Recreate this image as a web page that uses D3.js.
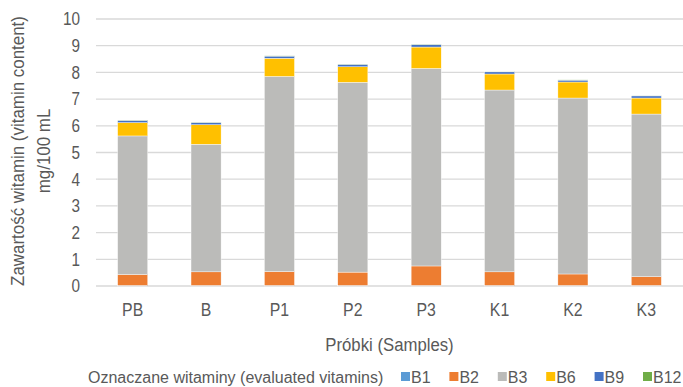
<!DOCTYPE html>
<html>
<head>
<meta charset="utf-8">
<script src="https://cdn.jsdelivr.net/npm/d3@7"></script>
<style>
  body { margin: 0; background: #fff; }
  text { font-family: "Liberation Sans", Arial, sans-serif; fill: #595959; font-size: 18px; }
</style>
</head>
<body>
<script>
// samples and vitamin contents (mg/100 mL)
var samples = ["PB", "B", "P1", "P2", "P3", "K1", "K2", "K3"];
var vitamins = ["B1", "B2", "B3", "B6", "B9", "B12"];
var B1  = [0.02, 0.02, 0.02, 0.02, 0.02, 0.02, 0.02, 0.02];
var B2  = [0.41, 0.51, 0.52, 0.50, 0.73, 0.51, 0.43, 0.33];
var B3  = [5.19, 4.78, 7.31, 7.11, 7.40, 6.81, 6.59, 6.09];
var B6  = [0.50, 0.73, 0.68, 0.58, 0.80, 0.60, 0.60, 0.60];
var B9  = [0.08, 0.08, 0.08, 0.09, 0.09, 0.08, 0.07, 0.08];
var B12 = [0.01, 0.01, 0.01, 0.01, 0.01, 0.01, 0.01, 0.01];
var yTicks = [0, 1, 2, 3, 4, 5, 6, 7, 8, 9, 10];

var colors = ["#5b9bd5", "#ed7d31", "#bbbbb9", "#ffc000", "#4472c4", "#70ad47"];

var width = 683, height = 387,
    margin = {top: 19, right: 0, bottom: 101, left: 96};

// squeeze text a bit, the original uses a narrow font
function narrow(sel, k) {
    sel.each(function() {
        var w = this.getComputedTextLength();
        d3.select(this).attr("textLength", w * k).attr("lengthAdjust", "spacingAndGlyphs");
    });
}

var series = [B1, B2, B3, B6, B9, B12];
var data = samples.map(function(s, i) {
    var row = {sample: s};
    vitamins.forEach(function(v, j) { row[v] = series[j][i]; });
    return row;
});

var svg = d3.select("body").append("svg")
    .attr("width", width)
    .attr("height", height);

var x = d3.scaleBand().domain(samples)
    .range([margin.left, width - margin.right])
    .paddingInner(0.59).paddingOuter(0.295);
var y = d3.scaleLinear().domain([0, 10]).range([height - margin.bottom, margin.top]);

// gridlines
svg.append("g")
    .selectAll("line")
    .data(yTicks)
    .join("line")
    .attr("x1", margin.left)
    .attr("x2", width - margin.right)
    .attr("y1", function(d) { return y(d); })
    .attr("y2", function(d) { return y(d); })
    .style("stroke", "#d9d9d9")
    .style("stroke-width", "1.3px");

// y tick labels
svg.append("g")
    .selectAll("text")
    .data(yTicks)
    .join("text")
    .attr("x", 80)
    .attr("y", function(d) { return y(d); })
    .attr("dy", "0.35em")
    .style("text-anchor", "end")
    .text(function(d) { return d; })
    .call(narrow, 0.85);

var stacked = d3.stack().keys(vitamins)(data);

svg.append("g")
    .selectAll("g")
    .data(stacked)
    .join("g")
    .attr("fill", function(d, i) { return colors[i]; })
    .selectAll("rect")
    .data(function(d) { return d; })
    .join("rect")
    .attr("x", function(d) { return x(d.data.sample); })
    .attr("width", x.bandwidth())
    .attr("y", function(d) { return y(d[1]); })
    .attr("height", function(d) { return y(d[0]) - y(d[1]); })
    .style("stroke", "#fff")
    .style("stroke-width", "0.4px");

// x tick labels
svg.append("g")
    .selectAll("text")
    .data(samples)
    .join("text")
    .attr("x", function(d) { return x(d) + x.bandwidth() / 2; })
    .attr("y", 316)
    .style("text-anchor", "middle")
    .text(function(d) { return d; })
    .call(narrow, 0.88);

// axis titles
svg.append("text")
    .attr("x", (margin.left + width) / 2)
    .attr("y", 351)
    .style("text-anchor", "middle")
    .text("Próbki (Samples)")
    .call(narrow, 0.93);

svg.append("text")
    .attr("transform", "translate(24,151) rotate(-90)")
    .style("text-anchor", "middle")
    .text("Zawartość witamin (vitamin content)")
    .call(narrow, 0.94);
svg.append("text")
    .attr("transform", "translate(50,151) rotate(-90)")
    .style("text-anchor", "middle")
    .text("mg/100 mL")
    .call(narrow, 0.94);

// legend
var legend = svg.append("g");
legend.append("text")
    .attr("x", 88)
    .attr("y", 383)
    .style("font-size", "16px")
    .text("Oznaczane witaminy (evaluated vitamins)");

var lx = d3.scalePoint().domain(vitamins).range([401, 643]);
var items = legend.selectAll("g.item")
    .data(vitamins)
    .join("g")
    .attr("class", "item")
    .attr("transform", function(d) { return "translate(" + lx(d) + ",0)"; });
items.append("rect")
    .attr("x", 0).attr("y", 372)
    .attr("width", 9).attr("height", 9)
    .attr("fill", function(d, i) { return colors[i]; });
items.append("text")
    .attr("x", 10)
    .attr("y", 383)
    .style("font-size", "16px")
    .text(function(d) { return d; });
</script>
</body>
</html>
